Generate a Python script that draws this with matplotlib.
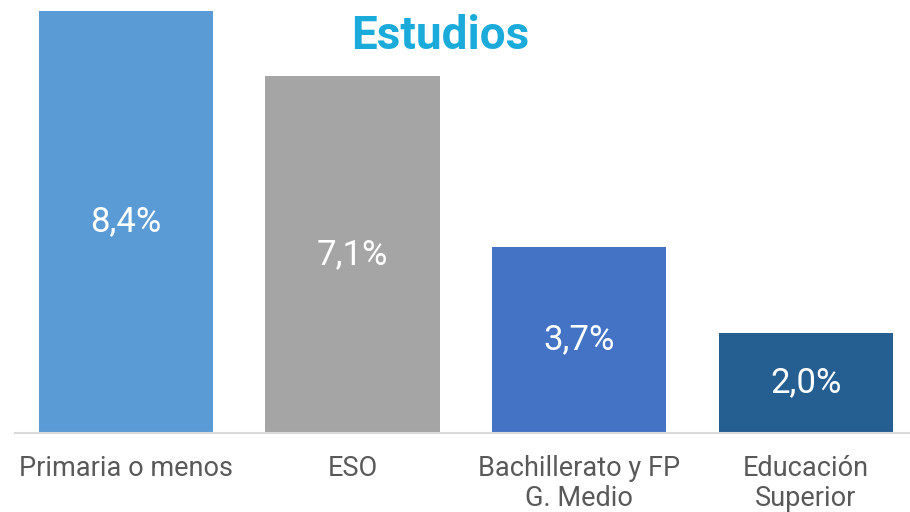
import matplotlib.pyplot as plt

categories = ['Primaria o menos', 'ESO', 'Bachillerato y FP\nG. Medio', 'Educación\nSuperior']
values = [8.4, 7.1, 3.7, 2.0]
labels = ['8,4%', '7,1%', '3,7%', '2,0%']
colors = ['#5B9BD5', '#A5A5A5', '#4472C4', '#255E91']

plt.rcParams['font.family'] = ['Roboto', 'DejaVu Sans']

fig = plt.figure(figsize=(9.1, 5.12), dpi=100)
ax = fig.add_axes([0.0165, 0.1543, 0.9835, 0.8457])

x = range(len(values))
bars = ax.bar(x, values, width=0.77, color=colors)
for i, v in enumerate(values):
    ax.text(i, v / 2, labels[i], ha='center', va='center',
            color='white', fontsize=25)

ax.set_xlim(-0.49, 3.46)
ax.set_ylim(0, 8.62)
ax.set_xticks(list(x))
ax.set_xticklabels(categories, fontsize=19.5, color='#595959', linespacing=1.12)
ax.tick_params(axis='x', length=0, pad=16)
ax.set_yticks([])
for s in ['top', 'right', 'left']:
    ax.spines[s].set_visible(False)
ax.spines['bottom'].set_color('#D9D9D9')
ax.spines['bottom'].set_linewidth(1.5)

fig.text(440 / 910, 1 - 36 / 512, 'Estudios', ha='center', va='center',
         fontsize=33, fontweight='bold', color='#1AABDB')

fig.savefig('out.png', dpi=100)
